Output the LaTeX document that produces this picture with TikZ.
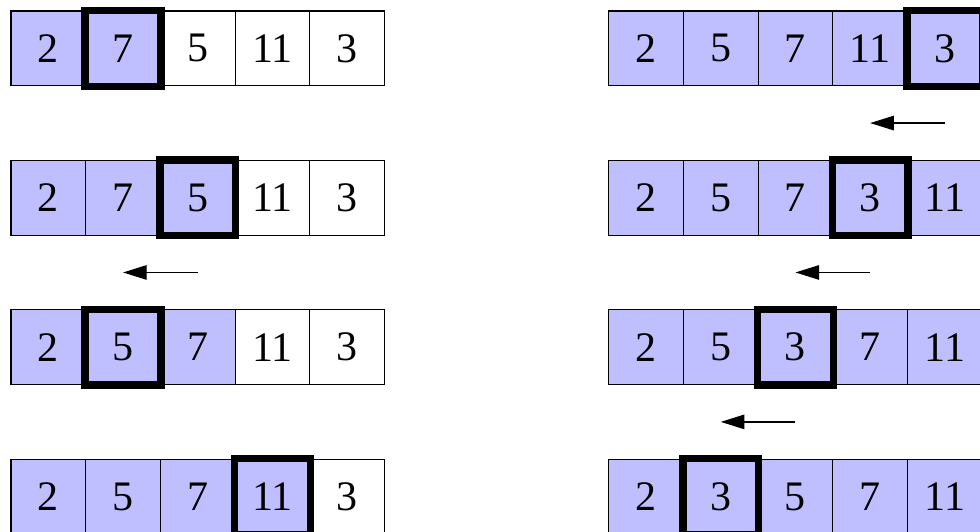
\documentclass[tikz,border=0pt]{standalone}
\usepackage{fontspec}
\setmainfont{Liberation Serif}
\usetikzlibrary{arrows.meta}

\tikzset{
  cell/.style={draw, rectangle, minimum size=1cm, inner sep=0pt, font=\fontsize{16}{19}\selectfont},
  sorted/.style={cell, fill=blue!25},
  current/.style={line width=2.8pt},
  movearrow/.style={-{Triangle[length=9pt,width=5.5pt]}, line width=0.5pt}
}

\begin{document}
\begin{tikzpicture}
    \useasboundingbox (-0.147,0.147) rectangle (12.97,-6.97);

    % Left column, step 1
    \node[sorted] (l11) at (0.5,-0.5) {2};
    \node[sorted] (l12) at (1.5,-0.5) {7};
    \node[cell] (l13) at (2.5,-0.5) {5};
    \node[cell] (l14) at (3.5,-0.5) {11};
    \node[cell] (l15) at (4.5,-0.5) {3};
    \draw[current] (l12.north west) rectangle (l12.south east);

    % Left column, step 2
    \node[sorted] (l21) at (0.5,-2.5) {2};
    \node[sorted] (l22) at (1.5,-2.5) {7};
    \node[sorted] (l23) at (2.5,-2.5) {5};
    \node[cell] (l24) at (3.5,-2.5) {11};
    \node[cell] (l25) at (4.5,-2.5) {3};
    \draw[current] (l23.north west) rectangle (l23.south east);

    % Left column, step 3
    \node[sorted] (l31) at (0.5,-4.5) {2};
    \node[sorted] (l32) at (1.5,-4.5) {5};
    \node[sorted] (l33) at (2.5,-4.5) {7};
    \node[cell] (l34) at (3.5,-4.5) {11};
    \node[cell] (l35) at (4.5,-4.5) {3};
    \draw[current] (l32.north west) rectangle (l32.south east);

    % Left column, step 4
    \node[sorted] (l41) at (0.5,-6.5) {2};
    \node[sorted] (l42) at (1.5,-6.5) {5};
    \node[sorted] (l43) at (2.5,-6.5) {7};
    \node[sorted] (l44) at (3.5,-6.5) {11};
    \node[cell] (l45) at (4.5,-6.5) {3};
    \draw[current] (l44.north west) rectangle (l44.south east);

    % Right column, step 1
    \node[sorted] (r11) at (8.5,-0.5) {2};
    \node[sorted] (r12) at (9.5,-0.5) {5};
    \node[sorted] (r13) at (10.5,-0.5) {7};
    \node[sorted] (r14) at (11.5,-0.5) {11};
    \node[sorted] (r15) at (12.5,-0.5) {3};
    \draw[current] (r15.north west) rectangle (r15.south east);

    % Right column, step 2
    \node[sorted] (r21) at (8.5,-2.5) {2};
    \node[sorted] (r22) at (9.5,-2.5) {5};
    \node[sorted] (r23) at (10.5,-2.5) {7};
    \node[sorted] (r24) at (11.5,-2.5) {3};
    \node[sorted] (r25) at (12.5,-2.5) {11};
    \draw[current] (r24.north west) rectangle (r24.south east);

    % Right column, step 3
    \node[sorted] (r31) at (8.5,-4.5) {2};
    \node[sorted] (r32) at (9.5,-4.5) {5};
    \node[sorted] (r33) at (10.5,-4.5) {3};
    \node[sorted] (r34) at (11.5,-4.5) {7};
    \node[sorted] (r35) at (12.5,-4.5) {11};
    \draw[current] (r33.north west) rectangle (r33.south east);

    % Right column, step 4
    \node[sorted] (r41) at (8.5,-6.5) {2};
    \node[sorted] (r42) at (9.5,-6.5) {3};
    \node[sorted] (r43) at (10.5,-6.5) {5};
    \node[sorted] (r44) at (11.5,-6.5) {7};
    \node[sorted] (r45) at (12.5,-6.5) {11};
    \draw[current] (r42.north west) rectangle (r42.south east);

    % Shift arrows
    \coordinate (la) at (2.5,-3.5);
    \coordinate (lb) at (1.5,-3.5);
    \coordinate (ra) at (12.5,-1.5);
    \coordinate (rb) at (11.5,-1.5);
    \coordinate (rc) at (11.5,-3.5);
    \coordinate (rd) at (10.5,-3.5);
    \coordinate (re) at (10.5,-5.5);
    \coordinate (rf) at (9.5,-5.5);
    \draw[movearrow] (la) -- (lb);
    \draw[movearrow] (ra) -- (rb);
    \draw[movearrow] (rc) -- (rd);
    \draw[movearrow] (re) -- (rf);
\end{tikzpicture}
\end{document}
